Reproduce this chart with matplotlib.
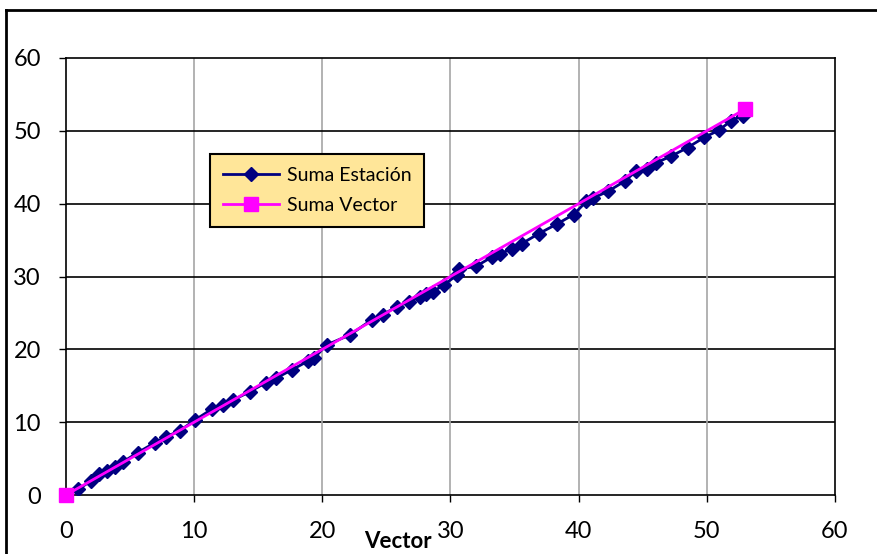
import matplotlib
matplotlib.use("Agg")
import matplotlib.pyplot as plt
from matplotlib.lines import Line2D

# Data
est_x = [0, 0.96, 1.93, 2.6, 3.17, 3.82, 4.47, 5.59, 6.94, 7.8, 8.89, 10.06,
         11.37, 12.27, 13.05, 14.35, 15.6, 16.38, 17.6, 18.9, 19.34, 20.33,
         22.15, 23.84, 24.7, 25.8, 26.78, 27.6, 28.1, 28.6, 29.5, 30.5,
         30.7, 32.0, 33.2, 33.85, 34.77, 35.55, 36.9, 38.3, 39.6, 40.6,
         41.1, 42.3, 43.6, 44.5, 45.3, 46.0, 47.2, 48.5, 49.8, 50.96, 51.9, 52.8]
est_y = [0, 0.78, 1.92, 2.88, 3.3, 3.89, 4.58, 5.81, 7.19, 8.0, 8.83, 10.3,
         11.77, 12.36, 13.05, 14.19, 15.43, 16.03, 17.17, 18.4, 18.77, 20.6,
         21.98, 24.04, 24.73, 25.87, 26.55, 27.24, 27.6, 27.9, 28.85, 30.2,
         31.0, 31.4, 32.65, 33.1, 33.8, 34.5, 35.9, 37.2, 38.5, 40.3,
         40.75, 41.7, 43.1, 44.5, 44.8, 45.6, 46.5, 47.7, 49.1, 50.1, 51.4, 52.1]
vec_x = [0, 53]
vec_y = [0, 53]
ticks = [0, 10, 20, 30, 40, 50, 60]

W, H = 878, 554
fig = plt.figure(figsize=(W / 100, H / 100), dpi=100)
ax = fig.add_axes([66 / W, (H - 495) / H, (835 - 66) / W, (495 - 58) / H])

font = ['Lato', 'DejaVu Sans']

ax.plot(est_x, est_y, color='#000080', lw=2, marker='D', markersize=7.5,
        markeredgewidth=1, markeredgecolor='#000080', markerfacecolor='#000080',
        label='Suma Estación', zorder=3)
ax.plot(vec_x, vec_y, color='#FF00FF', lw=2, marker='s', markersize=10,
        markeredgecolor='#FF00FF', markerfacecolor='#FF00FF',
        label='Suma Vector', zorder=4, clip_on=False)

ax.set_xlim(0, 60)
ax.set_ylim(0, 60)
ax.set_xticks(ticks)
ax.set_yticks(ticks)
ax.set_xticklabels([str(t) for t in ticks], fontsize=17, family=font)
ax.set_yticklabels([str(t) for t in ticks], fontsize=17, family=font)
ax.tick_params(direction='out', length=5, width=1, colors='black')
ax.tick_params(axis='x', pad=14)
ax.tick_params(axis='y', pad=13)

for t in ticks[1:-1]:
    ax.axvline(t, color='#A6A6A6', lw=1.2, zorder=1)
    ax.axhline(t, color='black', lw=1.2, zorder=1)

for s in ax.spines.values():
    s.set_color('black')
    s.set_linewidth(1.2)

leg = ax.legend(loc='upper left', bbox_to_anchor=((210 - 66) / (835 - 66), (495 - 154) / (495 - 58)),
                frameon=True, fancybox=False, prop={'family': font, 'size': 14},
                handlelength=2.9, borderpad=0.65, labelspacing=0.7, handletextpad=0.4,
                borderaxespad=0)
leg.get_frame().set_facecolor('#FFE699')
leg.get_frame().set_edgecolor('black')
leg.get_frame().set_linewidth(1.5)
leg.get_frame().set_alpha(1)

fig.text(398 / W, (H - 541) / H, 'Vector', fontsize=16, fontweight='bold',
         family=font, ha='center', va='center')

# outer chart frame (partially cropped)
fig.add_artist(Line2D([6 / W, 6 / W], [0, (H - 10) / H], color='black', lw=2,
                      transform=fig.transFigure))
fig.add_artist(Line2D([6 / W, 1], [(H - 10) / H, (H - 10) / H], color='black', lw=2,
                      transform=fig.transFigure))

fig.savefig('out.png', dpi=100)
